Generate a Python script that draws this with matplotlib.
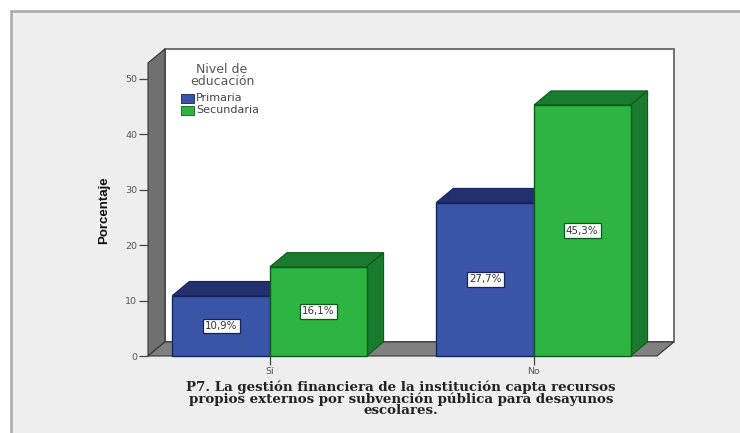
import matplotlib
matplotlib.use('Agg')
import matplotlib.pyplot as plt
from matplotlib.patches import Polygon, Rectangle

categories = ['Sí', 'No']
primaria = [10.9, 27.7]
secundaria = [16.1, 45.3]
value_labels_primaria = ['10,9%', '27,7%']
value_labels_secundaria = ['16,1%', '45,3%']
y_ticks = [0, 10, 20, 30, 40, 50]
legend_title = 'Nivel de\neducación'
legend_names = ['Primaria', 'Secundaria']
y_label = 'Porcentaje'
x_title = ('P7. La gestión financiera de la institución capta recursos\n'
           'propios externos por subvención pública para desayunos\n'
           'escolares.')

W, H = 740, 433
fig = plt.figure(figsize=(W / 100, H / 100), dpi=100, facecolor='white')

# outer panel, pixel coordinates
bg = fig.add_axes([0, 0, 1, 1])
bg.set_xlim(0, W)
bg.set_ylim(H, 0)
bg.axis('off')
bg.add_patch(Rectangle((10.5, 10.5), 740, 500, facecolor='#eeeeee', edgecolor='#a8a8a8', lw=1.8))

# plot axes sit on the front edge of the 3d box
x0, x1, y0, y50 = 148, 657, 356, 79
ax = fig.add_axes([x0 / W, 1 - y0 / H, (x1 - x0) / W, (y0 - y50) / H])
ax.patch.set_alpha(0)
ax.set_ylim(0, 50)
ax.set_xlim(-0.462, 1.466)
ax.set_yticks(y_ticks)
ax.set_xticks([0, 1])
ax.set_xticklabels(categories)
ax.tick_params(labelsize=6.8, labelcolor='#555555', color='#444444', length=6.5, width=0.9, pad=1.2)
for s in ax.spines.values():
    s.set_visible(False)

dx = 0.0644
dy = 2.55
top = 52.9
xa, xb = ax.get_xlim()

def poly(pts, color, edge='#333333', lw=0.8, z=1):
    ax.add_patch(Polygon(pts, closed=True, facecolor=color, edgecolor=edge, lw=lw, zorder=z, clip_on=False))

# box walls
poly([(xa + dx, dy), (xb + dx, dy), (xb + dx, top + dy), (xa + dx, top + dy)], 'white', '#666666', 1.3)
poly([(xa, 0), (xa + dx, dy), (xa + dx, top + dy), (xa, top)], '#707070')
poly([(xa, 0), (xb, 0), (xb + dx, dy), (xa + dx, dy)], '#808080')

def bar3d(left, width, value, front, side, top_color, edge, label):
    right = left + width
    poly([(left, value), (right, value), (right + dx, value + dy), (left + dx, value + dy)], top_color, edge, 0.8, 2)
    poly([(right, 0), (right + dx, dy), (right + dx, value + dy), (right, value)], side, edge, 0.8, 2)
    poly([(left, 0), (right, 0), (right, value), (left, value)], front, edge, 1.0, 3)
    ax.text(left + width / 2, value / 2, label, ha='center', va='center', fontsize=7.4, color='#333333', zorder=5,
            bbox=dict(boxstyle='square,pad=0.22', facecolor='white', edgecolor=edge, lw=0.9))

blue_w = 0.37
green_w = 0.366
for i, cat in enumerate(categories):
    bar3d(i - blue_w, blue_w, primaria[i], '#3a55a8', '#223070', '#223070', '#14245c', value_labels_primaria[i])

for i, cat in enumerate(categories):
    bar3d(i, green_w, secundaria[i], '#2db442', '#1a7a2e', '#1a7a2e', '#0e5a1e', value_labels_secundaria[i])

# legend and titles, pixel coordinates
over = fig.add_axes([0, 0, 1, 1])
over.set_xlim(0, W)
over.set_ylim(H, 0)
over.axis('off')
over.text(222, 75.5, legend_title, ha='center', va='center', fontsize=9, color='#555555', linespacing=0.9)
for name, c, e, y in zip(legend_names, ['#3a55a8', '#2db442'], ['#14245c', '#0e5a1e'], [98, 110]):
    over.add_patch(Rectangle((180.5, y - 4.5), 13, 9, facecolor=c, edgecolor=e, lw=0.6))
    over.text(196, y, name, ha='left', va='center', fontsize=8, color='#444444')

over.text(104, 210, y_label, rotation=90, ha='center', va='center', fontsize=9.5, color='#111111',
          family='Liberation Sans', fontweight='bold')
over.text(401, 399, x_title, ha='center', va='center', fontsize=9.6, fontweight='bold', family='DejaVu Serif',
          color='#222222', linespacing=0.83)

fig.savefig('out.png', dpi=100)
